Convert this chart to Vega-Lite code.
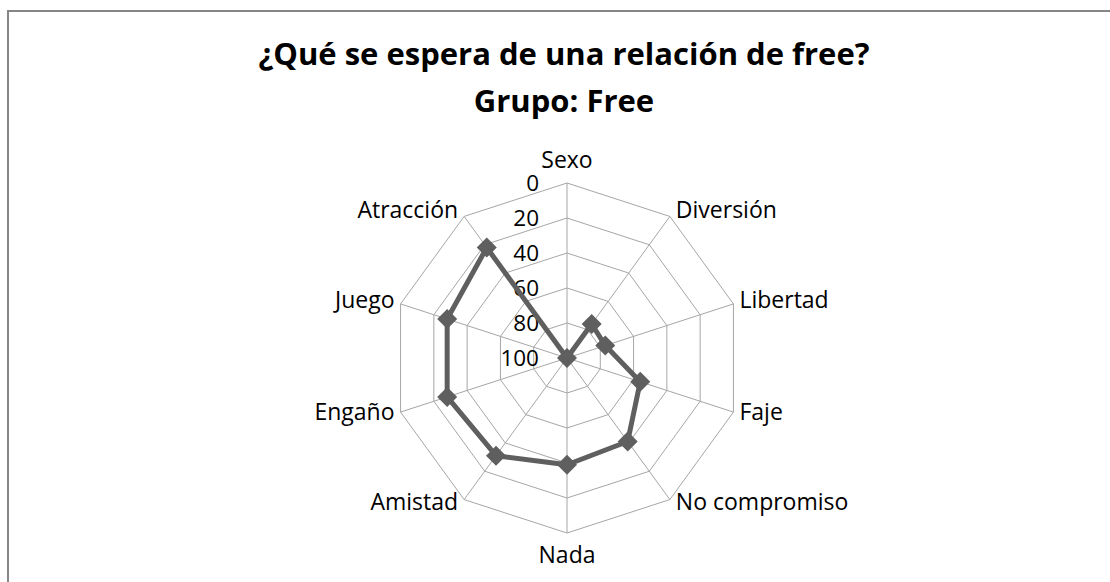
{
  "$schema": "https://vega.github.io/schema/vega-lite/v6.json",
  "width": 1104,
  "height": 573,
  "autosize": {"type": "none"},
  "padding": {"left": 8, "top": 11, "right": -2, "bottom": -2},
  "background": "white",
  "title": {
    "text": "¿Qué se espera de una relación de free?",
    "subtitle": "Grupo: Free",
    "font": "Open Sans", "fontSize": 31, "fontWeight": "bold", "color": "#000000",
    "subtitleFont": "Open Sans", "subtitleFontSize": 31, "subtitleFontWeight": "bold", "subtitleColor": "#000000",
    "subtitlePadding": 16,
    "anchor": "middle", "frame": "group", "offset": -108, "dx": 4
  },
  "config": {"view": {"stroke": "#868686", "strokeWidth": 2}, "font": "Open Sans"},
  "datasets": {
    "cats": [
      {"i": 0, "cat": "Sexo"}, {"i": 1, "cat": "Diversión"}, {"i": 2, "cat": "Libertad"},
      {"i": 3, "cat": "Faje"}, {"i": 4, "cat": "No compromiso"}, {"i": 5, "cat": "Nada"},
      {"i": 6, "cat": "Amistad"}, {"i": 7, "cat": "Engaño"}, {"i": 8, "cat": "Juego"},
      {"i": 9, "cat": "Atracción"}
    ],
    "series": [
      {"i": 0, "cat": "Sexo", "v": 100}, {"i": 1, "cat": "Diversión", "v": 76},
      {"i": 2, "cat": "Libertad", "v": 77}, {"i": 3, "cat": "Faje", "v": 56},
      {"i": 4, "cat": "No compromiso", "v": 41}, {"i": 5, "cat": "Nada", "v": 39},
      {"i": 6, "cat": "Amistad", "v": 31}, {"i": 7, "cat": "Engaño", "v": 28},
      {"i": 8, "cat": "Juego", "v": 28}, {"i": 9, "cat": "Atracción", "v": 22}
    ],
    "rings": [
      {"i": 0, "levels": [0, 20, 40, 60, 80]}, {"i": 1, "levels": [0, 20, 40, 60, 80]},
      {"i": 2, "levels": [0, 20, 40, 60, 80]}, {"i": 3, "levels": [0, 20, 40, 60, 80]},
      {"i": 4, "levels": [0, 20, 40, 60, 80]}, {"i": 5, "levels": [0, 20, 40, 60, 80]},
      {"i": 6, "levels": [0, 20, 40, 60, 80]}, {"i": 7, "levels": [0, 20, 40, 60, 80]},
      {"i": 8, "levels": [0, 20, 40, 60, 80]}, {"i": 9, "levels": [0, 20, 40, 60, 80]},
      {"i": 10, "levels": [0, 20, 40, 60, 80]}
    ],
    "ticks": [{"level": 0}, {"level": 20}, {"level": 40}, {"level": 60}, {"level": 80}, {"level": 100}]
  },
  "layer": [
    {
      "data": {"name": "rings"},
      "transform": [
        {"flatten": ["levels"], "as": ["level"]},
        {"calculate": "(100 - datum.level) * 1.75", "as": "r"},
        {"calculate": "datum.r * sin(datum.i * PI / 5)", "as": "x"},
        {"calculate": "datum.r * cos(datum.i * PI / 5)", "as": "y"}
      ],
      "mark": {"type": "line", "stroke": "#a6a6a6", "strokeWidth": 1},
      "encoding": {
        "x": {"field": "x", "type": "quantitative", "scale": {"domain": [-559, 545], "nice": false, "zero": false}, "axis": null},
        "y": {"field": "y", "type": "quantitative", "scale": {"domain": [-226, 347], "nice": false, "zero": false}, "axis": null},
        "detail": {"field": "level", "type": "nominal"},
        "order": {"field": "i", "type": "quantitative"}
      }
    },
    {
      "data": {"name": "cats"},
      "transform": [
        {"calculate": "0", "as": "x0"},
        {"calculate": "0", "as": "y0"},
        {"calculate": "175 * sin(datum.i * PI / 5)", "as": "x2"},
        {"calculate": "175 * cos(datum.i * PI / 5)", "as": "y2"}
      ],
      "mark": {"type": "rule", "stroke": "#a6a6a6", "strokeWidth": 1},
      "encoding": {
        "x": {"field": "x0", "type": "quantitative", "scale": {"domain": [-559, 545], "nice": false, "zero": false}, "axis": null},
        "y": {"field": "y0", "type": "quantitative", "scale": {"domain": [-226, 347], "nice": false, "zero": false}, "axis": null},
        "x2": {"field": "x2"},
        "y2": {"field": "y2"}
      }
    },
    {
      "data": {"name": "ticks"},
      "transform": [
        {"calculate": "0", "as": "x"},
        {"calculate": "(100 - datum.level) * 1.75", "as": "y"}
      ],
      "mark": {"type": "text", "align": "right", "baseline": "middle", "dx": -28, "dy": 1, "fontSize": 22.5, "font": "Open Sans", "color": "#000000"},
      "encoding": {
        "x": {"field": "x", "type": "quantitative", "scale": {"domain": [-559, 545], "nice": false, "zero": false}, "axis": null},
        "y": {"field": "y", "type": "quantitative", "scale": {"domain": [-226, 347], "nice": false, "zero": false}, "axis": null},
        "text": {"field": "level", "type": "nominal"}
      }
    },
    {
      "data": {"name": "series"},
      "transform": [
        {"calculate": "(100 - datum.v) * 1.75", "as": "r"},
        {"calculate": "datum.r * sin(datum.i * PI / 5)", "as": "x"},
        {"calculate": "datum.r * cos(datum.i * PI / 5)", "as": "y"}
      ],
      "layer": [
        {
          "mark": {"type": "line", "stroke": "#5f5f5f", "strokeWidth": 5, "strokeJoin": "round"},
          "encoding": {
            "x": {"field": "x", "type": "quantitative", "scale": {"domain": [-559, 545], "nice": false, "zero": false}, "axis": null},
            "y": {"field": "y", "type": "quantitative", "scale": {"domain": [-226, 347], "nice": false, "zero": false}, "axis": null},
            "order": {"field": "i", "type": "quantitative"}
          }
        },
        {
          "transform": [{"filter": "datum.i == 9 || datum.i == 0"}],
          "mark": {"type": "line", "stroke": "#5f5f5f", "strokeWidth": 5},
          "encoding": {
            "x": {"field": "x", "type": "quantitative", "scale": {"domain": [-559, 545], "nice": false, "zero": false}, "axis": null},
            "y": {"field": "y", "type": "quantitative", "scale": {"domain": [-226, 347], "nice": false, "zero": false}, "axis": null},
            "order": {"field": "i", "type": "quantitative"}
          }
        },
        {
          "mark": {"type": "point", "shape": "diamond", "filled": true, "size": 400, "color": "#5f5f5f", "opacity": 1},
          "encoding": {
            "x": {"field": "x", "type": "quantitative", "scale": {"domain": [-559, 545], "nice": false, "zero": false}, "axis": null},
            "y": {"field": "y", "type": "quantitative", "scale": {"domain": [-226, 347], "nice": false, "zero": false}, "axis": null}
          }
        }
      ]
    },
    {
      "data": {"name": "cats"},
      "transform": [
        {"calculate": "175 * sin(datum.i * PI / 5)", "as": "x"},
        {"calculate": "175 * cos(datum.i * PI / 5) + 6 * cos(datum.i * PI / 5)", "as": "y"}
      ],
      "layer": [
        {
          "transform": [{"filter": "datum.i >= 1 && datum.i <= 4"}],
          "mark": {"type": "text", "align": "left", "baseline": "middle", "dx": 6, "dy": -1, "fontSize": 23, "font": "Open Sans", "color": "#000000"},
          "encoding": {
            "x": {"field": "x", "type": "quantitative", "scale": {"domain": [-559, 545], "nice": false, "zero": false}, "axis": null},
            "y": {"field": "y", "type": "quantitative", "scale": {"domain": [-226, 347], "nice": false, "zero": false}, "axis": null},
            "text": {"field": "cat", "type": "nominal"}
          }
        },
        {
          "transform": [{"filter": "datum.i >= 6"}],
          "mark": {"type": "text", "align": "right", "baseline": "middle", "dx": -6, "dy": -1, "fontSize": 23, "font": "Open Sans", "color": "#000000"},
          "encoding": {
            "x": {"field": "x", "type": "quantitative", "scale": {"domain": [-559, 545], "nice": false, "zero": false}, "axis": null},
            "y": {"field": "y", "type": "quantitative", "scale": {"domain": [-226, 347], "nice": false, "zero": false}, "axis": null},
            "text": {"field": "cat", "type": "nominal"}
          }
        },
        {
          "transform": [{"filter": "datum.i == 0"}],
          "mark": {"type": "text", "align": "center", "baseline": "middle", "dy": -16, "fontSize": 23, "font": "Open Sans", "color": "#000000"},
          "encoding": {
            "x": {"field": "x", "type": "quantitative", "scale": {"domain": [-559, 545], "nice": false, "zero": false}, "axis": null},
            "y": {"field": "y", "type": "quantitative", "scale": {"domain": [-226, 347], "nice": false, "zero": false}, "axis": null},
            "text": {"field": "cat", "type": "nominal"}
          }
        },
        {
          "transform": [{"filter": "datum.i == 5"}],
          "mark": {"type": "text", "align": "center", "baseline": "middle", "dy": 17, "fontSize": 23, "font": "Open Sans", "color": "#000000"},
          "encoding": {
            "x": {"field": "x", "type": "quantitative", "scale": {"domain": [-559, 545], "nice": false, "zero": false}, "axis": null},
            "y": {"field": "y", "type": "quantitative", "scale": {"domain": [-226, 347], "nice": false, "zero": false}, "axis": null},
            "text": {"field": "cat", "type": "nominal"}
          }
        }
      ]
    }
  ]
}
